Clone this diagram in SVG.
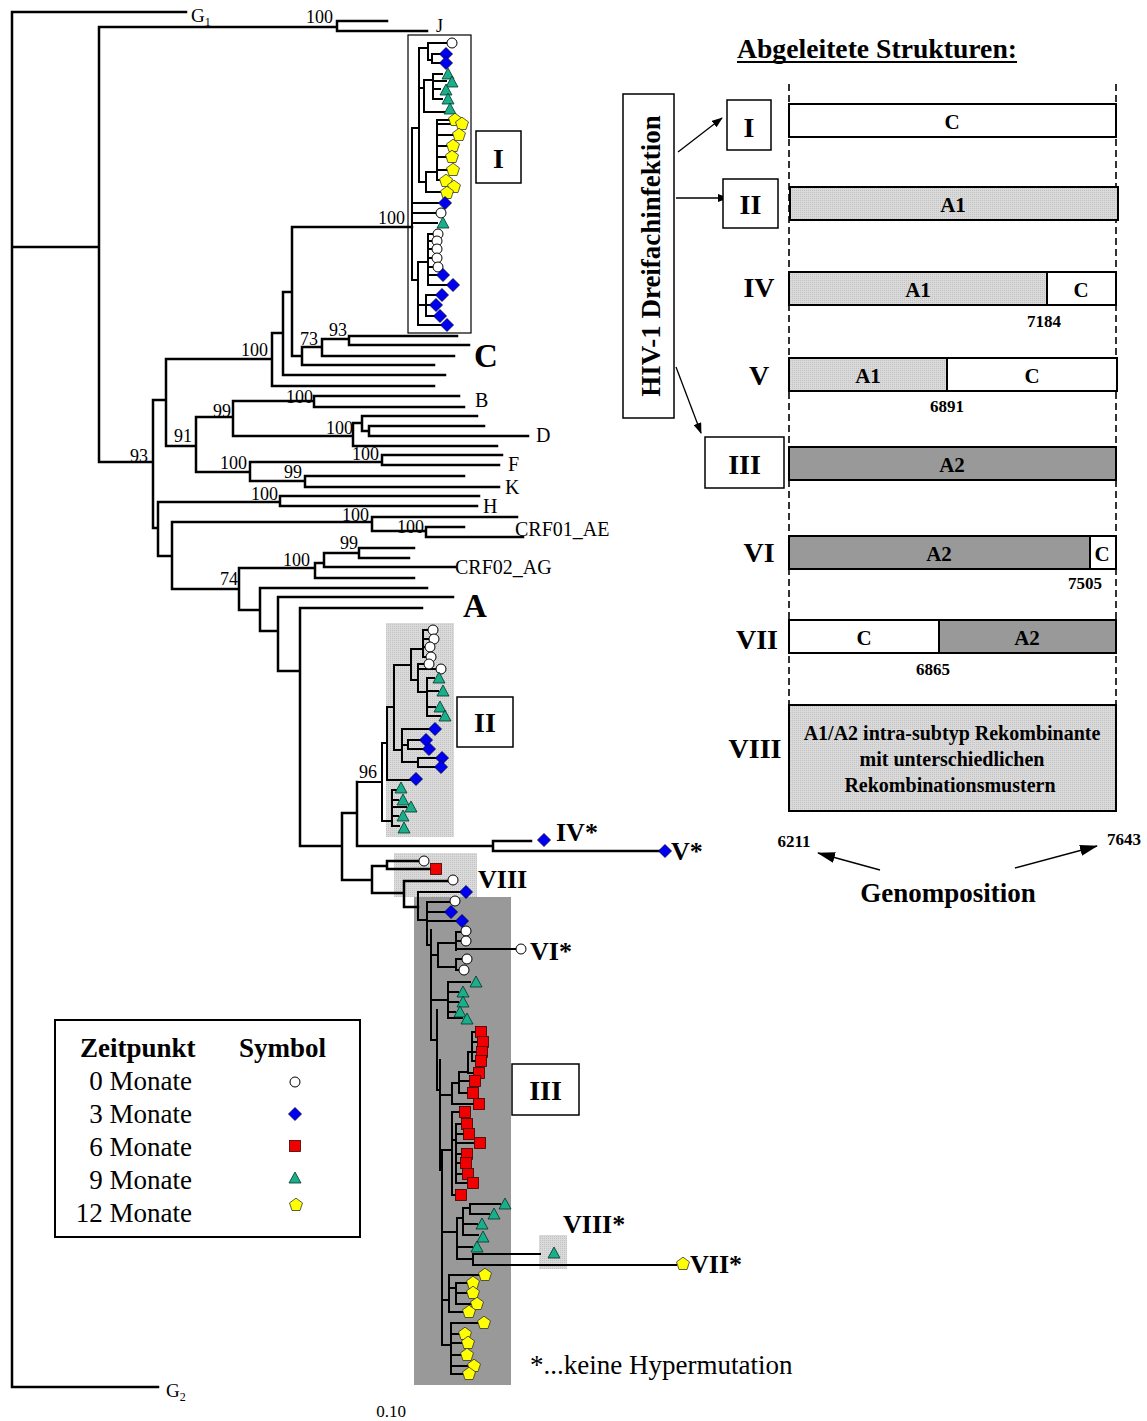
<svg xmlns="http://www.w3.org/2000/svg" width="1147" height="1421" viewBox="0 0 1147 1421">
<style>
.br{stroke:#000;stroke-width:2.5;fill:none;stroke-linecap:square}
.cl{stroke:#000;stroke-width:2;fill:none;stroke-linecap:square}
text{font-family:"Liberation Serif","Times New Roman",serif;fill:#000}
.bs{font-size:18px}
.lab{font-size:20px}
.big{font-size:33px;font-weight:bold}
.rl{font-size:26px;font-weight:bold}
.bx{fill:#fff;stroke:#000;stroke-width:1.5}
.bar{stroke:#000;stroke-width:2}
.bt{font-size:21px;font-weight:bold;text-anchor:middle}
.num{font-size:17px;font-weight:bold;text-anchor:middle}
.rn{font-size:28px;font-weight:bold;text-anchor:middle}
.dash{stroke:#000;stroke-width:1.6;stroke-dasharray:7,4;fill:none}
.lg{font-size:27px}
.ar{stroke:#000;stroke-width:1.3;fill:none}
</style>
<defs>
<pattern id="lt" width="2" height="2" patternUnits="userSpaceOnUse">
<rect width="2" height="2" fill="#dadada"/><rect width="1" height="1" fill="#c2c2c2"/>
</pattern>
<circle id="c" r="5" fill="#fff" stroke="#000" stroke-width="1"/>
<polygon id="d" points="0,-6.5 6.5,0 0,6.5 -6.5,0" fill="#0000f0" stroke="#000040" stroke-width="0.8"/>
<rect id="s" x="-5.5" y="-5.5" width="11" height="11" fill="#f00000" stroke="#400000" stroke-width="0.8"/>
<polygon id="t" points="0,-6 6,5 -6,5" fill="#1aae8c" stroke="#003322" stroke-width="0.8"/>
<polygon id="p" points="0,-6.8 6.5,-2.1 4,5.5 -4,5.5 -6.5,-2.1" fill="#ffff00" stroke="#333" stroke-width="0.8"/>
<marker id="ah" markerWidth="11" markerHeight="8" refX="10" refY="4" orient="auto" markerUnits="userSpaceOnUse"><path d="M0,0L11,4L0,8z" fill="#000"/></marker>
<marker id="ah2" markerWidth="18" markerHeight="11" refX="17" refY="5.5" orient="auto" markerUnits="userSpaceOnUse"><path d="M0,0L18,5.5L0,11z" fill="#000"/></marker>
</defs>
<rect width="1147" height="1421" fill="#fff"/>

<g id="cluster-boxes">
<rect x="408" y="35" width="63" height="298" fill="#fff" stroke="#000" stroke-width="1.2"/>
<rect x="386" y="623" width="68" height="214" fill="url(#lt)"/>
<rect x="394" y="853" width="83" height="44" fill="url(#lt)"/>
<rect x="414" y="897" width="97" height="488" fill="#999"/>
<rect x="539" y="1235" width="28" height="34" fill="url(#lt)"/>
</g>

<g id="connectors">
<path class="br" d="M12,12V1387M12,12H186M12,1387H158M12,247H99M99,27V462M99,27H337M337,21V31M337,21H387M337,31H427M99,462H153M153,400V528M153,400H166M166,359V446M166,359H272M272,333V386M272,333H283M272,386H434M283,292V375M283,292H292M283,375H445M292,227V356M292,227H412M292,356H302M302,347V365M302,347H322M302,365H434M322,339V356M322,339H349M322,356H454M349,336V345M349,336H457M349,345H469M166,446H196M196,417V472M196,417H233M233,401V436M233,401H314M314,396V407M314,396H459M314,407H464M233,436H353M353,423V446M353,423H362M362,416V431M362,416H477M362,431H369M369,426V436M369,426H484M369,436H528M353,446H497M196,472H250M250,462V481M250,462H382M382,455V465M382,455H502M382,465H499M250,481H305M305,476V487M305,476H464M305,487H499M153,528H158M158,502V556M158,502H280M280,496V506M280,496H479M280,506H477M158,556H172M172,522V589M172,522H372M372,517V531M372,517H517M372,531H426M426,527V537M426,527H464M426,537H523M172,589H239M239,568V610M239,568H315M315,563V578M315,563H324M324,553V567M324,553H359M359,548V558M359,548H414M359,558H409M324,567H455M315,578H414M239,610H260M260,588V631M260,588H427M260,631H278M278,597V671M278,597H453M278,671H300M300,608V846M300,608H422M300,846H342M342,813V880M342,813H357M357,782V846M357,846H493M493,841V851M493,841H531M493,851H660M342,880H372M372,866V893M372,866H387M387,861V869M387,861H418M387,869H430M372,893H404M404,881V907M404,881H448M404,907H418"/>
<path class="cl" d="M412,128V280M412,128H419M419,48V182M419,48H428M428,43V60M428,43H446M428,60H432M432,54V63M432,54H440M432,63H440M419,88H424M424,80V112M424,80H433M433,74V99M433,74H442M433,81H446M433,89H440M433,99H442M424,112H445M419,182H426M426,172V192M426,172H437M437,120V180M437,120H449M437,124H456M437,135H453M437,146H447M437,157H446M437,170H447M437,180H440M426,192H441M412,203H438M412,213H436M412,223H437M412,280H418M418,262V325M418,262H428M428,234V285M428,234H433M428,241H432M428,249H432M428,258H432M428,267H433M428,275H437M428,285H447M418,305H426M426,295V316M426,295H436M426,305H430M426,316H434M418,325H441"/>
<path class="cl" d="M357,782H382M382,743V821M382,743H387M387,707V780M387,707H394M387,780H410M394,665V750M394,665H411M411,649V680M411,649H423M423,630V657M423,630H428M423,639H429M423,647H425M423,657H426M411,680H418M418,664V692M418,664H424M418,669H436M418,692H427M427,678V716M427,678H434M427,691H438M427,707H435M427,716H440M394,750H402M402,729V762M402,729H429M402,745H408M408,740V749M408,740H420M408,749H423M402,762H418M418,758V767M418,758H436M418,767H435M382,821H392M392,790V826M392,790H396M392,800H398M392,807H406M392,816H398M392,826H399"/>
<path class="cl" d="M418,892V920M418,892H460M418,920H427M427,902V945M427,902H449M427,912H445M427,921H456M427,945H431M431,930V1040M431,955H438M438,943V967M438,943H456M456,932V950M456,932H461M456,941H461M456,949H516M438,967H456M456,959V970M456,959H462M456,970H459M431,1000H448M448,982V1018M448,982H470M448,992H458M448,1002H458M448,1012H455M448,1018H462M431,1040H437M437,1010V1090M437,1090H440M440,1060V1170M440,1095H452M452,1083V1104M452,1083H459M459,1072V1093M459,1072H468M468,1052V1073M468,1052H472M472,1032V1061M472,1032H476M472,1042H478M472,1052H477M472,1061H476M468,1073H474M459,1081H470M459,1093H468M452,1104H474M440,1150H452M452,1112V1195M452,1112H460M452,1195H456M452,1140H456M456,1124V1183M456,1124H462M456,1134H464M456,1143H475M456,1154H462M456,1163H461M456,1174H463M456,1183H468M440,1170H442M442,1150V1345M442,1232H457M457,1218V1259M457,1218H463M463,1208V1235M463,1208H470M470,1204V1214M470,1204H500M470,1214H489M463,1224H477M463,1235H478M457,1247H472M457,1259H473M473,1254V1265M473,1254H540M473,1265H676M442,1300H449M449,1275V1312M449,1275H479M449,1288H456M456,1283V1304M456,1283H467M456,1293H467M456,1304H471M449,1312H463M442,1345H451M451,1323V1374M451,1323H478M451,1334H459M451,1343H462M451,1355H461M451,1366H468M451,1374H463"/>
</g>

<g id="bootstrap-values" class="bs">
<text x="333" y="23" text-anchor="end">100</text>
<text x="405" y="224" text-anchor="end">100</text>
<text x="318" y="345" text-anchor="end">73</text>
<text x="347" y="336" text-anchor="end">93</text>
<text x="268" y="356" text-anchor="end">100</text>
<text x="231" y="417" text-anchor="end">99</text>
<text x="313" y="403" text-anchor="end">100</text>
<text x="192" y="442" text-anchor="end">91</text>
<text x="353" y="434" text-anchor="end">100</text>
<text x="148" y="462" text-anchor="end">93</text>
<text x="247" y="469" text-anchor="end">100</text>
<text x="379" y="460" text-anchor="end">100</text>
<text x="302" y="478" text-anchor="end">99</text>
<text x="278" y="500" text-anchor="end">100</text>
<text x="369" y="521" text-anchor="end">100</text>
<text x="424" y="533" text-anchor="end">100</text>
<text x="358" y="549" text-anchor="end">99</text>
<text x="310" y="566" text-anchor="end">100</text>
<text x="238" y="585" text-anchor="end">74</text>
<text x="377" y="778" text-anchor="end">96</text>
</g>

<g id="leaf-labels" class="lab">
<text x="191" y="22" font-size="19">G<tspan font-size="12" dy="4">1</tspan></text>
<text x="166" y="1397" font-size="19">G<tspan font-size="12" dy="4">2</tspan></text>
<text x="436" y="32" font-size="18">J</text>
<text x="474" y="367" class="big">C</text>
<text x="475" y="407">B</text>
<text x="536" y="442">D</text>
<text x="508" y="471">F</text>
<text x="505" y="494">K</text>
<text x="483" y="513">H</text>
<text x="515" y="536">CRF01_AE</text>
<text x="455" y="574">CRF02_AG</text>
<text x="463" y="617" class="big">A</text>
<text x="391" y="1417" font-size="17" text-anchor="middle">0.10</text>
</g>

<g id="cluster-labels">
<rect class="bx" x="476" y="131" width="45" height="52"/>
<text x="498.5" y="168" class="rn">I</text>
<rect class="bx" x="457" y="697" width="56" height="50"/>
<text x="485" y="732" class="rn">II</text>
<rect class="bx" x="512" y="1064" width="67" height="51"/>
<text x="545.5" y="1100" class="rn">III</text>
<text x="556" y="841" class="rl">IV*</text>
<text x="671" y="860" class="rl">V*</text>
<text x="478" y="888" class="rl">VIII</text>
<text x="530" y="960" class="rl">VI*</text>
<text x="563" y="1233" class="rl">VIII*</text>
<text x="690" y="1273" class="rl">VII*</text>
<text x="530" y="1374" class="lg">*...keine Hypermutation</text>
</g>

<g id="symbols">
<use href="#c" x="452" y="43"/><use href="#d" x="446" y="54"/><use href="#d" x="446" y="63"/>
<use href="#t" x="448" y="74"/><use href="#t" x="452" y="82"/><use href="#t" x="446" y="90"/><use href="#t" x="448" y="99"/><use href="#t" x="450" y="109"/>
<use href="#p" x="455" y="120"/><use href="#p" x="462" y="124"/><use href="#p" x="459" y="135"/><use href="#p" x="453" y="146"/><use href="#p" x="452" y="157"/><use href="#p" x="453" y="170"/><use href="#p" x="446" y="181"/><use href="#p" x="454" y="187"/><use href="#p" x="447" y="193"/>
<use href="#d" x="445" y="203"/><use href="#c" x="441" y="213"/><use href="#t" x="443" y="223"/>
<use href="#c" x="438" y="234"/><use href="#c" x="437" y="241"/><use href="#c" x="437" y="249"/><use href="#c" x="437" y="258"/><use href="#c" x="438" y="267"/>
<use href="#d" x="443" y="275"/><use href="#d" x="453" y="285"/><use href="#d" x="442" y="295"/><use href="#d" x="436" y="305"/><use href="#d" x="440" y="316"/><use href="#d" x="447" y="325"/>
<use href="#c" x="433" y="630"/><use href="#c" x="434" y="639"/><use href="#c" x="430" y="647"/><use href="#c" x="431" y="657"/><use href="#c" x="429" y="664"/><use href="#c" x="441" y="669"/>
<use href="#t" x="439" y="678"/><use href="#t" x="443" y="691"/><use href="#t" x="440" y="707"/><use href="#t" x="445" y="716"/>
<use href="#d" x="435" y="729"/><use href="#d" x="426" y="740"/><use href="#d" x="429" y="749"/><use href="#d" x="442" y="758"/><use href="#d" x="441" y="767"/><use href="#d" x="416" y="779"/>
<use href="#t" x="401" y="788"/><use href="#t" x="403" y="800"/><use href="#t" x="411" y="807"/><use href="#t" x="403" y="816"/><use href="#t" x="404" y="828"/>
<use href="#d" x="544" y="840"/><use href="#d" x="665" y="851"/>
<use href="#c" x="424" y="861"/><use href="#s" x="436" y="869"/><use href="#c" x="453" y="880"/>
<use href="#d" x="466" y="892"/><use href="#c" x="455" y="901"/><use href="#d" x="451" y="912"/><use href="#d" x="462" y="921"/>
<use href="#c" x="466" y="931"/><use href="#c" x="466" y="941"/><use href="#c" x="521" y="949"/><use href="#c" x="467" y="959"/><use href="#c" x="464" y="970"/>
<use href="#t" x="476" y="982"/><use href="#t" x="463" y="992"/><use href="#t" x="463" y="1002"/><use href="#t" x="460" y="1012"/><use href="#t" x="467" y="1019"/>
<use href="#s" x="481" y="1032"/><use href="#s" x="483" y="1042"/><use href="#s" x="482" y="1052"/><use href="#s" x="481" y="1061"/><use href="#s" x="479" y="1073"/><use href="#s" x="475" y="1081"/><use href="#s" x="473" y="1093"/><use href="#s" x="479" y="1104"/>
<use href="#s" x="465" y="1112"/><use href="#s" x="467" y="1124"/><use href="#s" x="469" y="1134"/><use href="#s" x="480" y="1143"/><use href="#s" x="467" y="1154"/><use href="#s" x="466" y="1163"/><use href="#s" x="468" y="1174"/><use href="#s" x="473" y="1183"/><use href="#s" x="461" y="1195"/>
<use href="#t" x="505" y="1204"/><use href="#t" x="494" y="1214"/><use href="#t" x="482" y="1224"/><use href="#t" x="483" y="1237"/><use href="#t" x="477" y="1247"/>
<use href="#t" x="554" y="1253"/><use href="#p" x="683" y="1264"/>
<use href="#p" x="485" y="1275"/><use href="#p" x="473" y="1283"/><use href="#p" x="473" y="1293"/><use href="#p" x="477" y="1304"/><use href="#p" x="469" y="1312"/><use href="#p" x="484" y="1323"/><use href="#p" x="465" y="1334"/><use href="#p" x="468" y="1343"/><use href="#p" x="467" y="1355"/><use href="#p" x="474" y="1366"/><use href="#p" x="469" y="1374"/>
</g>

<g id="legend">
<rect x="55" y="1020" width="305" height="217" fill="#fff" stroke="#000" stroke-width="2"/>
<text x="80" y="1057" class="lg" font-weight="bold">Zeitpunkt</text>
<text x="239" y="1057" class="lg" font-weight="bold">Symbol</text>
<text x="192" y="1090" class="lg" text-anchor="end">0 Monate</text>
<text x="192" y="1123" class="lg" text-anchor="end">3 Monate</text>
<text x="192" y="1156" class="lg" text-anchor="end">6 Monate</text>
<text x="192" y="1189" class="lg" text-anchor="end">9 Monate</text>
<text x="192" y="1222" class="lg" text-anchor="end">12 Monate</text>
<use href="#c" x="295" y="1082"/><use href="#d" x="295" y="1114"/><use href="#s" x="295" y="1146"/><use href="#t" x="295" y="1178"/><use href="#p" x="296" y="1205"/>
</g>

<g id="right-panel">
<text x="737" y="58" font-size="27" font-weight="bold" textLength="280" lengthAdjust="spacingAndGlyphs">Abgeleitete Strukturen:</text>
<line x1="737" y1="62" x2="1017" y2="62" stroke="#000" stroke-width="2"/>
<path class="dash" d="M789,84V812M1116,84V812"/>
<g id="hiv-box">
<rect class="bx" x="623" y="94" width="51" height="324"/>
<text transform="translate(660,256) rotate(-90)" font-size="27" font-weight="bold" text-anchor="middle">HIV-1 Dreifachinfektion</text>
</g>
<g id="arrows-hiv">
<line class="ar" x1="678" y1="152" x2="722" y2="118" marker-end="url(#ah)"/>
<line class="ar" x1="676" y1="198" x2="728" y2="198" marker-end="url(#ah)"/>
<line class="ar" x1="676" y1="367" x2="701" y2="433" marker-end="url(#ah)"/>
</g>
<g id="row-I">
<rect class="bx" x="727" y="100" width="44" height="50"/>
<text x="749" y="137" class="rn">I</text>
<rect class="bar" x="789" y="104" width="327" height="33" fill="#fff"/>
<text x="952" y="129" class="bt">C</text>
</g>
<g id="row-II">
<rect class="bx" x="723" y="179" width="55" height="49"/>
<text x="750.5" y="214" class="rn">II</text>
<rect class="bar" x="790" y="187" width="328" height="33" fill="url(#lt)"/>
<text x="953" y="212" class="bt">A1</text>
</g>
<g id="row-IV">
<text x="759" y="297" class="rn">IV</text>
<rect class="bar" x="789" y="272" width="258" height="33" fill="url(#lt)"/>
<rect class="bar" x="1047" y="272" width="69" height="33" fill="#fff"/>
<text x="918" y="297" class="bt">A1</text>
<text x="1081" y="297" class="bt">C</text>
<text x="1044" y="327" class="num">7184</text>
</g>
<g id="row-V">
<text x="759" y="385" class="rn">V</text>
<rect class="bar" x="789" y="358" width="158" height="33" fill="url(#lt)"/>
<rect class="bar" x="947" y="358" width="170" height="33" fill="#fff"/>
<text x="868" y="383" class="bt">A1</text>
<text x="1032" y="383" class="bt">C</text>
<text x="947" y="412" class="num">6891</text>
</g>
<g id="row-III">
<rect class="bx" x="705" y="437" width="79" height="51"/>
<text x="744.5" y="474" class="rn">III</text>
<rect class="bar" x="789" y="447" width="327" height="33" fill="#999"/>
<text x="952" y="472" class="bt">A2</text>
</g>
<g id="row-VI">
<text x="759" y="562" class="rn">VI</text>
<rect class="bar" x="789" y="536" width="301" height="33" fill="#999"/>
<rect class="bar" x="1090" y="536" width="26" height="33" fill="#fff"/>
<text x="939" y="561" class="bt">A2</text>
<text x="1102" y="561" class="bt">C</text>
<text x="1085" y="589" class="num">7505</text>
</g>
<g id="row-VII">
<text x="757" y="649" class="rn">VII</text>
<rect class="bar" x="789" y="620" width="150" height="33" fill="#fff"/>
<rect class="bar" x="939" y="620" width="177" height="33" fill="#999"/>
<text x="864" y="645" class="bt">C</text>
<text x="1027" y="645" class="bt">A2</text>
<text x="933" y="675" class="num">6865</text>
</g>
<g id="row-VIII">
<text x="755" y="758" class="rn">VIII</text>
<rect class="bar" x="789" y="705" width="327" height="106" fill="url(#lt)"/>
<text x="952" y="740" font-size="20" font-weight="bold" text-anchor="middle">A1/A2 intra-subtyp Rekombinante</text>
<text x="952" y="766" font-size="20" font-weight="bold" text-anchor="middle">mit unterschiedlichen</text>
<text x="950" y="792" font-size="20" font-weight="bold" text-anchor="middle">Rekombinationsmustern</text>
</g>
<g id="genome-axis">
<text x="794" y="847" class="num">6211</text>
<text x="1124" y="845" class="num">7643</text>
<line class="ar" x1="880" y1="870" x2="818" y2="853" marker-end="url(#ah2)"/>
<line class="ar" x1="1015" y1="868" x2="1097" y2="846" marker-end="url(#ah2)"/>
<text x="948" y="902" font-size="27" font-weight="bold" text-anchor="middle">Genomposition</text>
</g>
</g>
</svg>
